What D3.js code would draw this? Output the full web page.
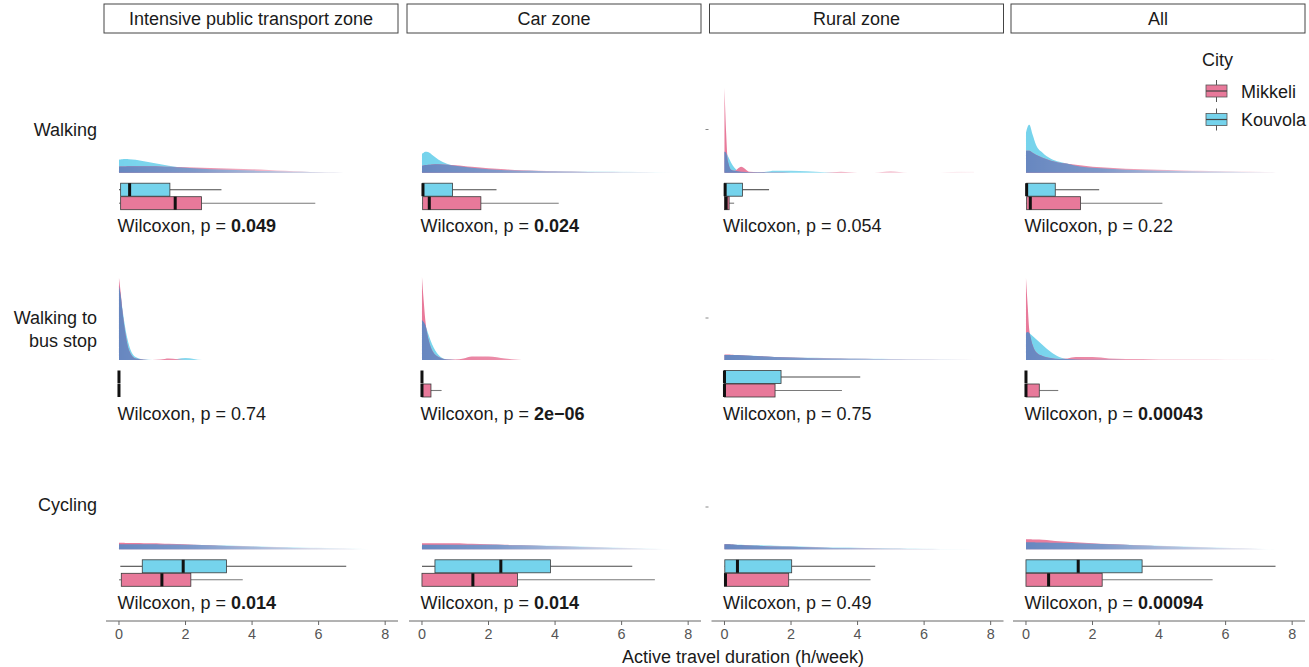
<!DOCTYPE html>
<html>
<head>
<meta charset="utf-8">
<script src="https://cdn.jsdelivr.net/npm/d3@7"></script>
<style>
  body { margin: 0; background: #fff; }
  text { font-family: "Liberation Sans", Arial, Helvetica, sans-serif; }
</style>
</head>
<body>
<svg id="chart" width="1309" height="667"></svg>
<script>
// ---- data ----
const zones = ["Intensive public transport zone", "Car zone", "Rural zone", "All"];
const activities = [["Walking"], ["Walking to", "bus stop"], ["Cycling"]];
const cities = ["Mikkeli", "Kouvola"];
const xTicks = [0, 2, 4, 6, 8];

// x positions (h/week) where the density heights were read
const densGrid = [0, 0.05, 0.1, 0.2, 0.3, 0.5, 0.75, 1, 1.25, 1.5, 2, 2.5, 3, 3.5, 4, 4.5, 5, 5.5, 6, 6.5, 7, 7.5];

// relative density heights, one row per zone
const walkKouvola = [
  [13, 13.2, 13.4, 13.6, 13.5, 13, 11.5, 10, 8.5, 7, 5, 4, 3.2, 2.6, 2.1, 1.7, 1.3, 0.9, 0.5, 0.2, 0, 0],
  [19, 20, 21, 20.5, 18, 13, 9, 7, 6, 5, 3.5, 2.5, 2, 1.8, 1.5, 1.3, 1.2, 1.1, 1, 0.8, 0.5, 0],
  [21, 20, 17, 10, 5, 1, 0.5, 0.5, 1, 2, 2, 1.5, 0.5, 0, 0, 0, 0, 0, 0, 0, 0, 0],
  [40, 46, 48, 38, 28, 20, 14, 11, 9, 7, 5, 4, 3, 2.5, 2, 1.8, 1.5, 1.2, 1, 0.8, 0.5, 0]
];
const walkMikkeli = [
  [6, 6.1, 6.2, 6.3, 6.4, 6.5, 6.5, 6.5, 6.3, 6, 5.5, 5, 4.5, 4, 3.5, 2.8, 2, 1.2, 0.5, 0.2, 0, 0],
  [7, 7.3, 7.6, 8, 8.3, 8.5, 8, 7.5, 6.8, 6, 4.5, 3.5, 2.5, 2, 1.5, 1.1, 0.8, 0.5, 0.3, 0.1, 0, 0],
  [85, 40, 12, 3, 2, 6, 1, 0.5, 0.3, 0.2, 0, 0, 0, 1, 0, 0, 1.5, 0, 0, 0, 1, 1],
  [22, 22, 22, 20, 18, 15, 12, 10, 9, 8, 6, 5, 4, 3.5, 3, 2.5, 2, 1.8, 1.5, 1.2, 1, 0.3]
];
const busKouvola = [
  [74, 65, 52, 30, 15, 3, 0.5, 0, 0, 0, 2, 0, 0, 0, 0, 0, 0, 0, 0, 0, 0, 0],
  [40, 38, 35, 25, 16, 5, 0.5, 0, 0, 0, 0, 0, 0, 0, 0, 0, 0, 0, 0, 0, 0, 0],
  [5, 5, 5, 5, 5, 4.8, 4.5, 4, 3.5, 3, 2.5, 2.2, 2, 1.8, 1.5, 1.2, 1, 0.8, 0.6, 0.4, 0.3, 0],
  [27, 28, 27, 24, 21, 15, 8, 3, 1, 0.5, 0.3, 0.2, 0, 0, 0, 0, 0, 0, 0, 0, 0, 0]
];
const busMikkeli = [
  [82, 68, 50, 25, 10, 1.5, 0.3, 0, 0.5, 1.5, 0, 0, 0, 0, 0, 0, 0, 0, 0, 0, 0, 0],
  [83, 60, 40, 20, 10, 3, 0.5, 0.5, 1.5, 3.5, 3.5, 1.5, 0, 0, 0, 0, 0, 0, 0, 0, 0, 0],
  [5.5, 5.5, 5.4, 5.2, 5, 4.8, 4.3, 4, 3.5, 3, 2.5, 2.1, 1.8, 1.5, 1.2, 1, 0.8, 0.6, 0.4, 0.3, 0.2, 0],
  [82, 55, 30, 15, 8, 4, 2, 1, 1.5, 3, 3, 1.5, 1, 1, 0.5, 0.5, 0.5, 0.4, 0.3, 0.3, 0.3, 0]
];
const cycKouvola = [
  [5, 5, 5, 5, 5, 5, 5, 5, 4.8, 4.7, 4.5, 4.2, 4, 3.5, 3, 2.6, 2.2, 1.8, 1.5, 1.1, 0.7, 0],
  [4.5, 4.5, 4.5, 4.5, 4.5, 4.5, 4.5, 4.5, 4.5, 4.5, 4.5, 4.2, 4, 3.8, 3.5, 3, 2.5, 2, 1.5, 1, 0.5, 0],
  [5, 5, 5, 4.9, 4.8, 4.5, 4.2, 4, 3.7, 3.5, 3, 2.5, 2, 1.7, 1.5, 1.2, 1, 0.8, 0.6, 0.4, 0.2, 0],
  [7, 7, 7, 7, 6.9, 6.8, 6.6, 6.5, 6.2, 6, 5.5, 5, 4.5, 4, 3.5, 3, 2.5, 2, 1.5, 1, 0.6, 0]
];
const cycMikkeli = [
  [6.5, 6.5, 6.5, 6.4, 6.3, 6.2, 6.1, 6, 5.8, 5.5, 5, 4.2, 3.5, 3, 2.5, 2, 1.5, 1.1, 0.8, 0.5, 0.3, 0],
  [6, 6, 6, 6, 6, 6, 6, 6, 5.8, 5.5, 5, 4.5, 4, 3.5, 3, 2.5, 2, 1.5, 1, 0.6, 0.3, 0],
  [5, 5, 5, 4.8, 4.6, 4.2, 3.8, 3.5, 3.1, 2.8, 2.5, 2, 1.5, 1.2, 1, 0.8, 0.5, 0.3, 0.2, 0.1, 0, 0],
  [10, 10, 10, 9.8, 9.7, 9.5, 8.8, 8, 7.5, 7, 6, 5.2, 4.5, 3.7, 3, 2.5, 2, 1.5, 1, 0.7, 0.4, 0]
];

// box stats [lower whisker, q1, median, q3, upper whisker] per zone
const walkBoxKouvola = [[0, 0.05, 0.32, 1.53, 3.08], [0, 0.02, 0.03, 0.92, 2.24], [0, 0, 0.02, 0.54, 1.34], [0, 0.02, 0.02, 0.88, 2.2]];
const walkBoxMikkeli = [[0, 0.05, 1.69, 2.48, 5.9], [0, 0.02, 0.22, 1.77, 4.11], [0, 0, 0.05, 0.14, 0.29], [0, 0.02, 0.13, 1.64, 4.1]];
const busBoxKouvola = [[0, 0, 0, 0, 0], [0, 0, 0, 0, 0], [0, 0, 0, 1.7, 4.08], [0, 0, 0, 0, 0]];
const busBoxMikkeli = [[0, 0, 0, 0, 0], [0, 0, 0, 0.27, 0.59], [0, 0, 0, 1.52, 3.53], [0, 0, 0, 0.4, 0.97]];
const cycBoxKouvola = [[0.04, 0.7, 1.93, 3.23, 6.83], [0, 0.39, 2.37, 3.86, 6.32], [0, 0.01, 0.39, 2.02, 4.53], [0, 0, 1.57, 3.49, 7.5]];
const cycBoxMikkeli = [[0, 0.07, 1.29, 2.16, 3.72], [0, 0, 1.53, 2.87, 7.0], [0, 0, 0.03, 1.93, 4.39], [0, 0, 0.68, 2.29, 5.61]];

// Wilcoxon p-values; bold when significant
const pWalk = ["0.049", "0.024", "0.054", "0.22"];
const pBus = ["0.74", "2e\u221206", "0.75", "0.00043"];
const pCyc = ["0.014", "0.014", "0.49", "0.00094"];
const boldWalk = [true, true, false, false];
const boldBus = [false, true, false, true];
const boldCyc = [true, true, false, true];

// ---- layout ----
const colPink = "#e8799a", colCyan = "#75d3ec", colBlend = "#6787c0";
const panelLeft = [106, 409, 711.5, 1013];
const panelW = 292;
const baseY = [172.7, 360, 549.3];
const axisY = 621;

const rows = [
  { k: walkKouvola, m: walkMikkeli, bk: walkBoxKouvola, bm: walkBoxMikkeli, p: pWalk, b: boldWalk },
  { k: busKouvola, m: busMikkeli, bk: busBoxKouvola, bm: busBoxMikkeli, p: pBus, b: boldBus },
  { k: cycKouvola, m: cycMikkeli, bk: cycBoxKouvola, bm: cycBoxMikkeli, p: pCyc, b: boldCyc }
];

const svg = d3.select("#chart");
const defs = svg.append("defs");

// density height scale (relative units -> px)
const hScale = d3.scaleLinear().domain([0, 85]).range([0, 85]);

zones.forEach((zone, c) => {
  const x = d3.scaleLinear().domain([-0.39, 8.386]).range([panelLeft[c], panelLeft[c] + panelW]);

  // strip
  svg.append("rect")
    .attr("x", panelLeft[c] - 2).attr("y", 4)
    .attr("width", panelW + 2).attr("height", 29)
    .attr("fill", "#fff").attr("stroke", "#444").attr("stroke-width", 1);
  svg.append("text")
    .attr("x", panelLeft[c] + panelW / 2 - 1).attr("y", 19)
    .attr("text-anchor", "middle").attr("dominant-baseline", "central")
    .attr("font-size", 18).attr("fill", "#1a1a1a")
    .text(zone);

  // fade-out mask for densities
  const grad = defs.append("linearGradient")
    .attr("id", "fade" + c).attr("gradientUnits", "userSpaceOnUse")
    .attr("x1", x(0)).attr("x2", x(7.6)).attr("y1", 0).attr("y2", 0);
  grad.append("stop").attr("offset", 0).attr("stop-color", "#fff").attr("stop-opacity", 1);
  grad.append("stop").attr("offset", 0.3).attr("stop-color", "#fff").attr("stop-opacity", 0.85);
  grad.append("stop").attr("offset", 1).attr("stop-color", "#fff").attr("stop-opacity", 0.08);
  defs.append("mask").attr("id", "mask" + c)
    .attr("maskUnits", "userSpaceOnUse")
    .attr("x", 0).attr("y", 0).attr("width", 1309).attr("height", 667)
    .append("rect").attr("x", 0).attr("y", 0).attr("width", 1309).attr("height", 667)
    .attr("fill", "url(#fade" + c + ")");

  rows.forEach((r, ri) => {
    const y0 = baseY[ri];
    const kv = r.k[c], mv = r.m[c];
    const ov = kv.map((v, i) => Math.min(v, mv[i]));
    const area = vals => d3.area()
      .x((d, i) => x(densGrid[i]))
      .y0(y0)
      .y1(d => y0 - hScale(d))
      .curve(d3.curveMonotoneX)(vals);

    const g = svg.append("g").attr("mask", "url(#mask" + c + ")");
    g.append("path").attr("d", area(kv)).attr("fill", colCyan);
    g.append("path").attr("d", area(mv)).attr("fill", colPink);
    g.append("path").attr("d", area(ov)).attr("fill", colBlend);

    // boxplots: Kouvola on top, Mikkeli below
    const boxes = [
      { s: r.bk[c], fill: colCyan, top: y0 + 10.5, wh: "#4a4a4a" },
      { s: r.bm[c], fill: colPink, top: y0 + 24, wh: "#7a7a7a" }
    ];
    const bh = 13;
    boxes.forEach(b => {
      const [lo, q1, med, q3, hi] = b.s;
      const cy = b.top + bh / 2;
      if (hi > q3) svg.append("line").attr("x1", x(q3)).attr("x2", x(hi))
        .attr("y1", cy).attr("y2", cy).attr("stroke", b.wh).attr("stroke-width", 1.1);
      if (q1 > lo) svg.append("line").attr("x1", x(lo)).attr("x2", x(q1))
        .attr("y1", cy).attr("y2", cy).attr("stroke", b.wh).attr("stroke-width", 1.1);
      if (q3 > q1) svg.append("rect")
        .attr("x", x(q1)).attr("y", b.top).attr("width", x(q3) - x(q1)).attr("height", bh)
        .attr("fill", b.fill).attr("stroke", "#3a3a3a").attr("stroke-width", 0.8);
      svg.append("rect")
        .attr("x", x(med) - 1.5).attr("y", b.top).attr("width", 3).attr("height", bh)
        .attr("fill", "#111");
    });

    // p-value label
    const t = svg.append("text")
      .attr("x", x(0) - 1.5).attr("y", y0 + 59.5)
      .attr("font-size", 18).attr("fill", "#1a1a1a");
    t.append("tspan").text("Wilcoxon, p = ");
    t.append("tspan").attr("font-weight", r.b[c] ? "bold" : "normal").text(r.p[c]);
  });

  // x axis
  svg.append("line").attr("x1", panelLeft[c]).attr("x2", panelLeft[c] + panelW)
    .attr("y1", axisY).attr("y2", axisY).attr("stroke", "#666").attr("stroke-width", 1);
  const ax = svg.append("g");
  xTicks.forEach(v => {
    ax.append("line").attr("x1", x(v)).attr("x2", x(v))
      .attr("y1", axisY).attr("y2", axisY + 4).attr("stroke", "#666");
    ax.append("text").attr("x", x(v)).attr("y", axisY + 13)
      .attr("text-anchor", "middle").attr("dominant-baseline", "central")
      .attr("font-size", 14.4).attr("fill", "#555").text(v);
  });

  // faint y ticks visible only on the rural panel
  if (c === 2) {
    [129.5, 318, 507].forEach(yy => {
      svg.append("line").attr("x1", x.range()[0] - 6).attr("x2", x.range()[0] - 3)
        .attr("y1", yy).attr("y2", yy).attr("stroke", "#888").attr("stroke-width", 1);
    });
  }
});

// row labels
const labelY = [[130], [318, 341], [505]];
activities.forEach((lines, i) => {
  lines.forEach((ln, j) => {
    svg.append("text").attr("x", 97).attr("y", labelY[i][j])
      .attr("text-anchor", "end").attr("dominant-baseline", "central")
      .attr("font-size", 18).attr("fill", "#1a1a1a").text(ln);
  });
});

// axis title
svg.append("text").attr("x", 743).attr("y", 657)
  .attr("text-anchor", "middle").attr("dominant-baseline", "central")
  .attr("font-size", 18).attr("fill", "#1a1a1a")
  .text("Active travel duration (h/week)");

// legend
const lg = svg.append("g");
lg.append("text").attr("x", 1202).attr("y", 60).attr("dominant-baseline", "central")
  .attr("font-size", 18).attr("fill", "#1a1a1a").text("City");
cities.forEach((city, i) => {
  const ky = 80 + i * 28.5;
  const fill = city === "Mikkeli" ? colPink : colCyan;
  lg.append("line").attr("x1", 1216.5).attr("x2", 1216.5).attr("y1", ky).attr("y2", ky + 22)
    .attr("stroke", "#555").attr("stroke-width", 1);
  lg.append("rect").attr("x", 1206).attr("y", ky + 5).attr("width", 21).attr("height", 12)
    .attr("fill", fill).attr("stroke", "#555").attr("stroke-width", 0.8);
  lg.append("line").attr("x1", 1206).attr("x2", 1227).attr("y1", ky + 11).attr("y2", ky + 11)
    .attr("stroke", "#444").attr("stroke-width", 1.2);
  lg.append("text").attr("x", 1241).attr("y", ky + 11.5).attr("dominant-baseline", "central")
    .attr("font-size", 18).attr("fill", "#1a1a1a").text(city);
});
</script>
</body>
</html>
